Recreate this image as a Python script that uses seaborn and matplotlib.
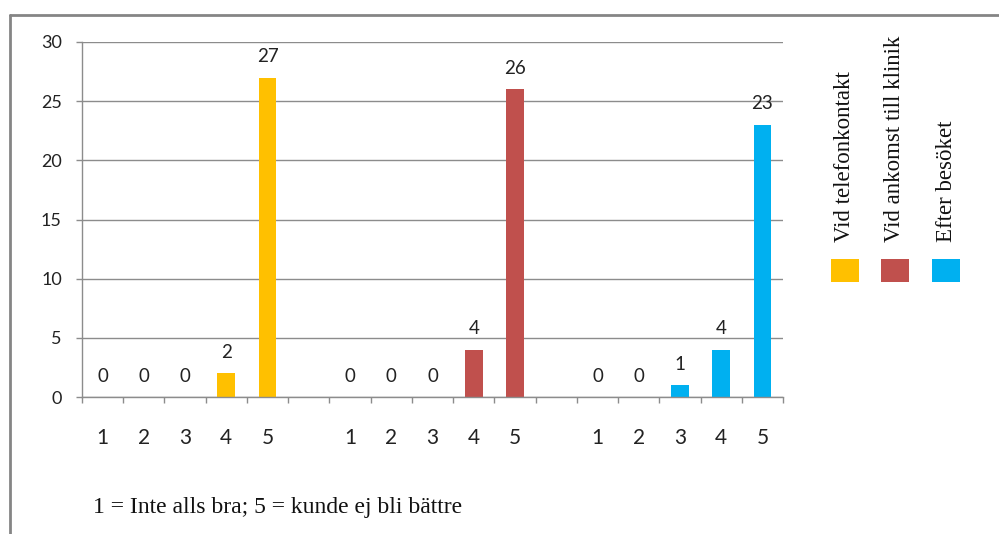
import numpy as np
import pandas as pd
import matplotlib
matplotlib.use("Agg")
import matplotlib.pyplot as plt
from matplotlib.patches import Rectangle
from matplotlib.lines import Line2D
import seaborn as sns

# Survey answers per stage, scores 1..5
groups = ["Vid telefonkontakt", "Vid ankomst till klinik", "Efter besöket"]
scores = ["1", "2", "3", "4", "5"]
telefon = [0, 0, 0, 2, 27]
ankomst = [0, 0, 0, 4, 26]
efter = [0, 0, 1, 4, 23]
colors = ["#FFC000", "#C0504D", "#00B0F0"]
y_ticks = [0, 5, 10, 15, 20, 25, 30]
footnote = "1 = Inte alls bra; 5 = kunde ej bli bättre"

series = [telefon, ankomst, efter]
rows = []
order = []
for gi, (g, vals) in enumerate(zip(groups, series)):
    for s, v in zip(scores, vals):
        key = f"{gi}-{s}"
        rows.append({"slot": key, "count": v, "group": g})
        order.append(key)
    if gi < len(groups) - 1:
        order.append(f"gap{gi}")
df = pd.DataFrame(rows)

sns.set_style("white")
plt.rcParams["font.family"] = ["Lato", "DejaVu Sans"]

W, H = 999, 534
fig = plt.figure(figsize=(W / 100, H / 100), dpi=100)
ax = fig.add_axes([82 / W, 1 - 397 / H, (783 - 82) / W, (397 - 42) / H])

sns.barplot(data=df, x="slot", y="count", hue="group", order=order,
            hue_order=groups, palette=colors, dodge=False, width=0.43,
            saturation=1, linewidth=0, legend=False, ax=ax)

for cont in ax.containers:
    ax.bar_label(cont, fmt="%g", padding=9, fontsize=13.5, color="#222222")

ax.set_ylim(0, 30)
ax.set_xlim(-0.5, len(order) - 0.5)
ax.set_yticks(y_ticks)
ax.set_xticks(range(len(order)))
ax.set_xticklabels([lab.split("-")[1] if "-" in lab else "" for lab in order])
ax.set_xticks(np.arange(-0.5, len(order), 1.0), minor=True)
ax.set_xlabel("")
ax.set_ylabel("")

grid_c = "#8C8C8C"
ax.set_axisbelow(True)
ax.yaxis.grid(True, color=grid_c, lw=1)
ax.xaxis.grid(False)
for side in ["top", "right"]:
    ax.spines[side].set_visible(False)
for side in ["left", "bottom"]:
    ax.spines[side].set_color(grid_c)
    ax.spines[side].set_linewidth(1)

ax.tick_params(axis="x", which="major", length=0, pad=22, labelsize=15,
               labelcolor="#222222")
ax.tick_params(axis="x", which="minor", bottom=True, length=4, width=1,
               color=grid_c, direction="out")
ax.tick_params(axis="y", left=True, length=4.5, width=1, color=grid_c,
               pad=10, labelsize=13, labelcolor="#222222", direction="out")

# Legend: rotated series names above colour swatches
serif = ["Liberation Serif", "DejaVu Serif"]
leg_x = [845, 895, 946]
for name, c, x in zip(groups, colors, leg_x):
    fig.text(x / W, 1 - 242 / H, name, rotation=90, ha="center", va="bottom",
             fontsize=16.5, family=serif, color="#111111")
    fig.patches.append(Rectangle(((x - 14) / W, 1 - 282 / H), 28 / W, 23 / H,
                                 transform=fig.transFigure, facecolor=c,
                                 edgecolor="none"))

fig.text(93 / W, 1 - 507 / H, footnote, ha="left", va="center", fontsize=17,
         family=serif, color="#111111")

# Outer chart frame (top and left edges)
frame_c = "#858585"
fig.lines.append(Line2D([10 / W, 1], [1 - 15 / H, 1 - 15 / H],
                        transform=fig.transFigure, color=frame_c, lw=2))
fig.lines.append(Line2D([10 / W, 10 / W], [0, 1 - 15 / H],
                        transform=fig.transFigure, color=frame_c, lw=2))

fig.savefig("out.png", dpi=100, facecolor="white")
